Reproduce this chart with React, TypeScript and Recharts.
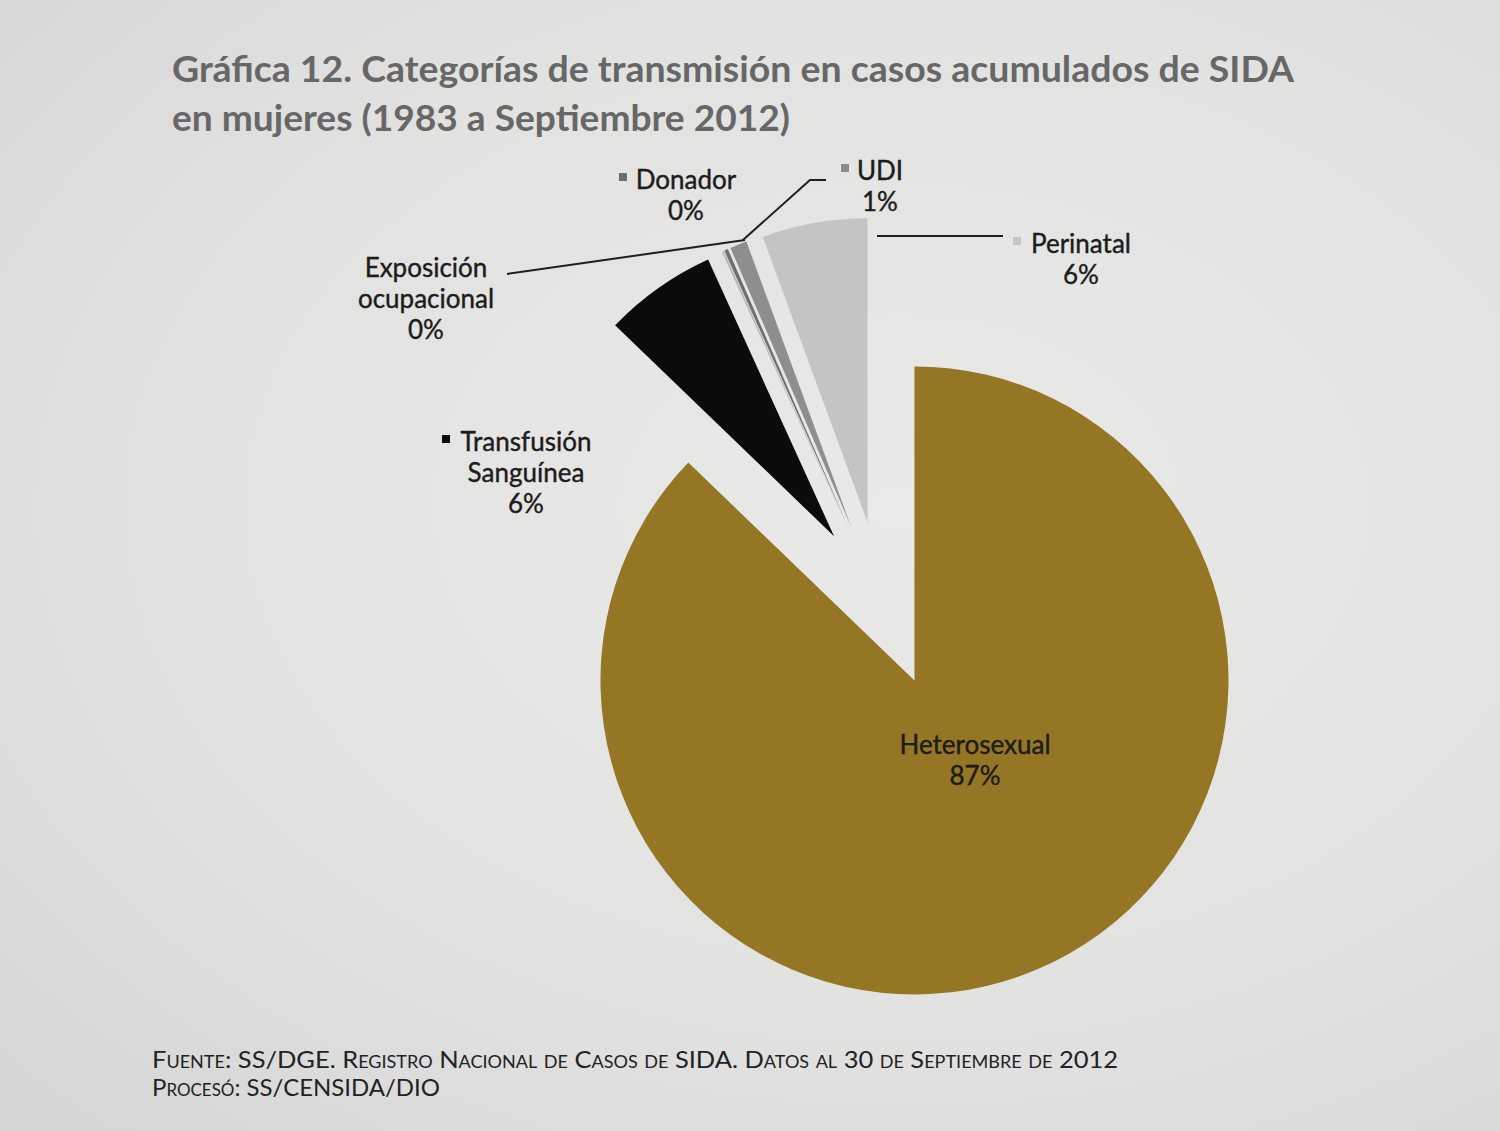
import React from 'react';
import { PieChart, Pie, Sector } from 'recharts';

// Categorías de transmisión, casos acumulados de SIDA en mujeres (1983 - sep 2012)
const CATEGORIES = [
  'Heterosexual',
  'Transfusión Sanguínea',
  'Exposición ocupacional',
  'Donador',
  'UDI',
  'Perinatal',
];
const VALUES = [87.2, 6.0, 0.1, 0.2, 0.9, 5.6];
const COLORS = ['#957624', '#0b0b0b', '#b4b4b4', '#6e6e6e', '#8e8e8e', '#c3c4c4'];

const TITLE_LINES = [
  'Gráfica 12. Categorías de transmisión en casos acumulados de SIDA',
  'en mujeres (1983 a Septiembre 2012)',
];
const FOOTER_LINES = [
  'Fuente: SS/DGE. Registro Nacional de Casos de SIDA. Datos al 30 de Septiembre de 2012',
  'Procesó: SS/CENSIDA/DIO',
];

const data = CATEGORIES.map((name, i) => ({ name, value: VALUES[i] }));

const RAD = Math.PI / 180;
const EXPLODE = 83;
const FONT = 'Lato, "Open Sans", sans-serif';

// where each label sits (text centre x, first line centre y), marker and leader lines
const LABEL_LAYOUT: Record<number, { x: number; y: number; marker?: number; leader?: number[][] }> = {
  0: { x: 975, y: 745 },
  1: { x: 526, y: 442, marker: 446 },
  2: { x: 426, y: 268, leader: [[507, 274], [745, 240]] },
  3: { x: 686, y: 180, marker: 623 },
  4: { x: 880, y: 171, marker: 845, leader: [[826, 180], [810, 180], [743, 240]] },
  5: { x: 1081, y: 244, marker: 1017, leader: [[877, 236], [1003, 236]] },
};

const renderSlice = (props: any) => {
  const { cx, cy, startAngle, endAngle, outerRadius, index, percent, name } = props;
  const mid = (startAngle + endAngle) / 2;
  const ox = cx + EXPLODE * Math.cos(-mid * RAD);
  const oy = cy + EXPLODE * Math.sin(-mid * RAD);
  const layout = LABEL_LAYOUT[index];
  const lines = [...String(name).split(' '), `${Math.round(percent * 100)}%`];
  return (
    <g key={`slice-${index}`}>
      <Sector
        cx={ox}
        cy={oy}
        innerRadius={0}
        outerRadius={index === 0 ? outerRadius + 4 : outerRadius - 6}
        startAngle={startAngle}
        endAngle={endAngle}
        fill={COLORS[index]}
        stroke="none"
      />
      {layout.leader && (
        <polyline
          points={layout.leader.map((p) => p.join(',')).join(' ')}
          fill="none"
          stroke="#1e1e1e"
          strokeWidth={2}
        />
      )}
      {layout.marker !== undefined && (
        <rect x={layout.marker - 4} y={layout.y - 7} width={8} height={8} fill={COLORS[index]} />
      )}
      {lines.map((t, k) => (
        <text
          key={k}
          x={layout.x}
          y={layout.y + k * 31 + 9}
          textAnchor="middle"
          fontFamily={FONT}
          fontSize={26}
          fill="#1c1c1c"
          stroke="#1c1c1c"
          strokeWidth={0.4}
        >
          {t}
        </text>
      ))}
    </g>
  );
};

const App: React.FC = () => {
  return (
    <div
      style={{
        position: 'absolute',
        left: 0,
        top: 0,
        width: 1500,
        height: 1131,
        overflow: 'hidden',
        background: 'radial-gradient(ellipse at 60% 45%, #e9eae8 0%, #e2e3e1 55%, #d5d4d6 100%)',
      }}
    >
      <PieChart width={1500} height={1131} margin={{ top: 0, right: 0, bottom: 0, left: 0 }}>
        <Pie
          data={data}
          dataKey="value"
          nameKey="name"
          cx={882}
          cy={604}
          outerRadius={310}
          startAngle={90}
          endAngle={-270}
          fill="transparent"
          stroke="none"
          label={renderSlice}
          labelLine={false}
          isAnimationActive={false}
        />
      </PieChart>
      <svg width={1500} height={1131} style={{ position: 'absolute', left: 0, top: 0, pointerEvents: 'none' }}>
        <text x={172} y={82} fontFamily={FONT} fontWeight={700} fontSize={37} fill="#676767" textLength={1122} lengthAdjust="spacingAndGlyphs">
          {TITLE_LINES[0]}
        </text>
        <text x={172} y={131} fontFamily={FONT} fontWeight={700} fontSize={37} fill="#676767" textLength={618} lengthAdjust="spacingAndGlyphs">
          {TITLE_LINES[1]}
        </text>
        <text x={152} y={1068} fontFamily={FONT} fontSize={24} fill="#222" style={{ fontVariant: 'small-caps' }} textLength={966} lengthAdjust="spacingAndGlyphs">
          {FOOTER_LINES[0]}
        </text>
        <text x={152} y={1096} fontFamily={FONT} fontSize={24} fill="#222" style={{ fontVariant: 'small-caps' }} textLength={288} lengthAdjust="spacingAndGlyphs">
          {FOOTER_LINES[1]}
        </text>
      </svg>
    </div>
  );
};

export default App;
